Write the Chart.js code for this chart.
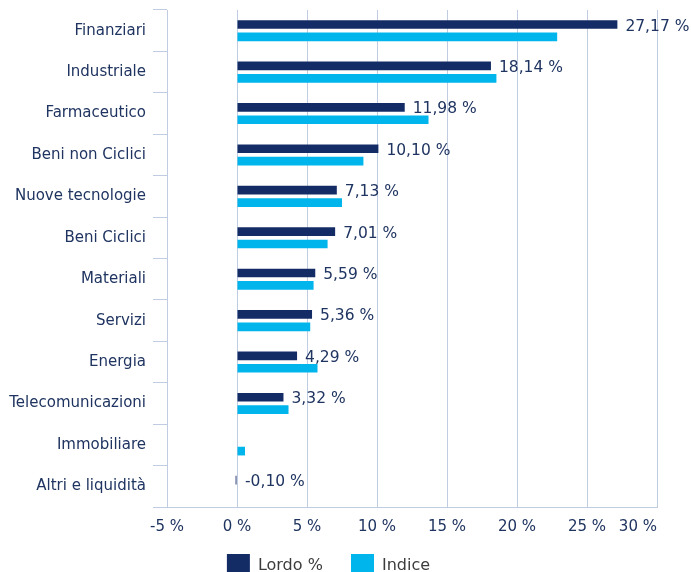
<!DOCTYPE html>
<html><head><meta charset="utf-8">
<script src="https://cdn.jsdelivr.net/npm/chart.js@4/dist/chart.umd.min.js"></script>
<style>html,body{margin:0;padding:0;background:#fff;overflow:hidden}#wrap{width:691px;height:587px}</style>
</head><body><div id="wrap"><canvas id="c" width="691" height="587"></canvas></div>
<script>
const categories = ["Finanziari","Industriale","Farmaceutico","Beni non Ciclici","Nuove tecnologie","Beni Ciclici","Materiali","Servizi","Energia","Telecomunicazioni","Immobiliare","Altri e liquidità"];
const lordo = [27.17, 18.14, 11.98, 10.10, 7.13, 7.01, 5.59, 5.36, 4.29, 3.32, null, -0.10];
const indice = [22.87, 18.53, 13.68, 9.03, 7.50, 6.47, 5.47, 5.23, 5.75, 3.68, 0.57, null];
const xMin = -5, xMax = 30, xStep = 5;
const seriesNames = ["Lordo %", "Indice"];

const NAVY = '#142C66', CYAN = '#00B5EB', TEXT = '#1F3460', GRID = '#C0CCE1';
Chart.defaults.font.family = "'DejaVu Sans', Verdana, sans-serif";
Chart.defaults.font.size = 15;
Chart.defaults.color = TEXT;

const fmt = v => v.toFixed(2).replace('.', ',') + ' %';

const labelPlugin = {
  id: 'barLabels',
  afterDatasetsDraw(chart) {
    const ctx = chart.ctx, xs = chart.scales.x;
    const meta = chart.getDatasetMeta(0);
    ctx.save();
    ctx.font = "15.5px 'DejaVu Sans', Verdana, sans-serif";
    ctx.fillStyle = TEXT;
    ctx.textAlign = 'left';
    ctx.textBaseline = 'middle';
    meta.data.forEach((bar, i) => {
      const v = lordo[i];
      if (v === null) return;
      const x = xs.getPixelForValue(Math.max(v, 0)) + 8;
      ctx.fillText(fmt(v), x, bar.y + 2);
    });
    ctx.restore();
  }
};

new Chart(document.getElementById('c'), {
  type: 'bar',
  data: {
    labels: categories,
    datasets: [
      { label: seriesNames[0], data: lordo, backgroundColor: NAVY, categoryPercentage: 0.6, barPercentage: 0.7 },
      { label: seriesNames[1], data: indice, backgroundColor: CYAN, categoryPercentage: 0.6, barPercentage: 0.7 }
    ]
  },
  options: {
    indexAxis: 'y',
    responsive: false,
    devicePixelRatio: 1,
    animation: false,
    layout: { padding: { left: 0, right: 34, top: 10, bottom: 0 } },
    plugins: {
      tooltip: { enabled: false },
      legend: {
        position: 'bottom',
        labels: {
          boxWidth: 23, boxHeight: 23, padding: 18, color: '#3C3C3C', font: { size: 16 },
          generateLabels: chart => {
            const items = Chart.defaults.plugins.legend.labels.generateLabels(chart);
            items.forEach((it, i) => { it.lineWidth = 0; if (i === 0) it.text = it.text + '  '; });
            return items;
          }
        }
      }
    },
    scales: {
      x: {
        min: xMin, max: xMax,
        ticks: {
          stepSize: xStep, padding: 11, color: TEXT, maxRotation: 0, autoSkip: false,
          callback: v => v === xMax ? v + ' %        ' : v + ' %'
        },
        grid: { color: GRID, drawTicks: false, lineWidth: 1 },
        border: { color: GRID },
        afterFit: s => { s.height = 29; s.paddingLeft = 0; s.paddingRight = 0; }
      },
      y: {
        ticks: { padding: 7, color: TEXT },
        grid: { color: GRID, drawOnChartArea: false, tickLength: 14, offset: true },
        border: { color: GRID },
        afterFit: s => { s.width = 167; s.paddingTop = 0; s.paddingBottom = 0; }
      }
    }
  },
  plugins: [labelPlugin]
});
</script>
</body></html>
